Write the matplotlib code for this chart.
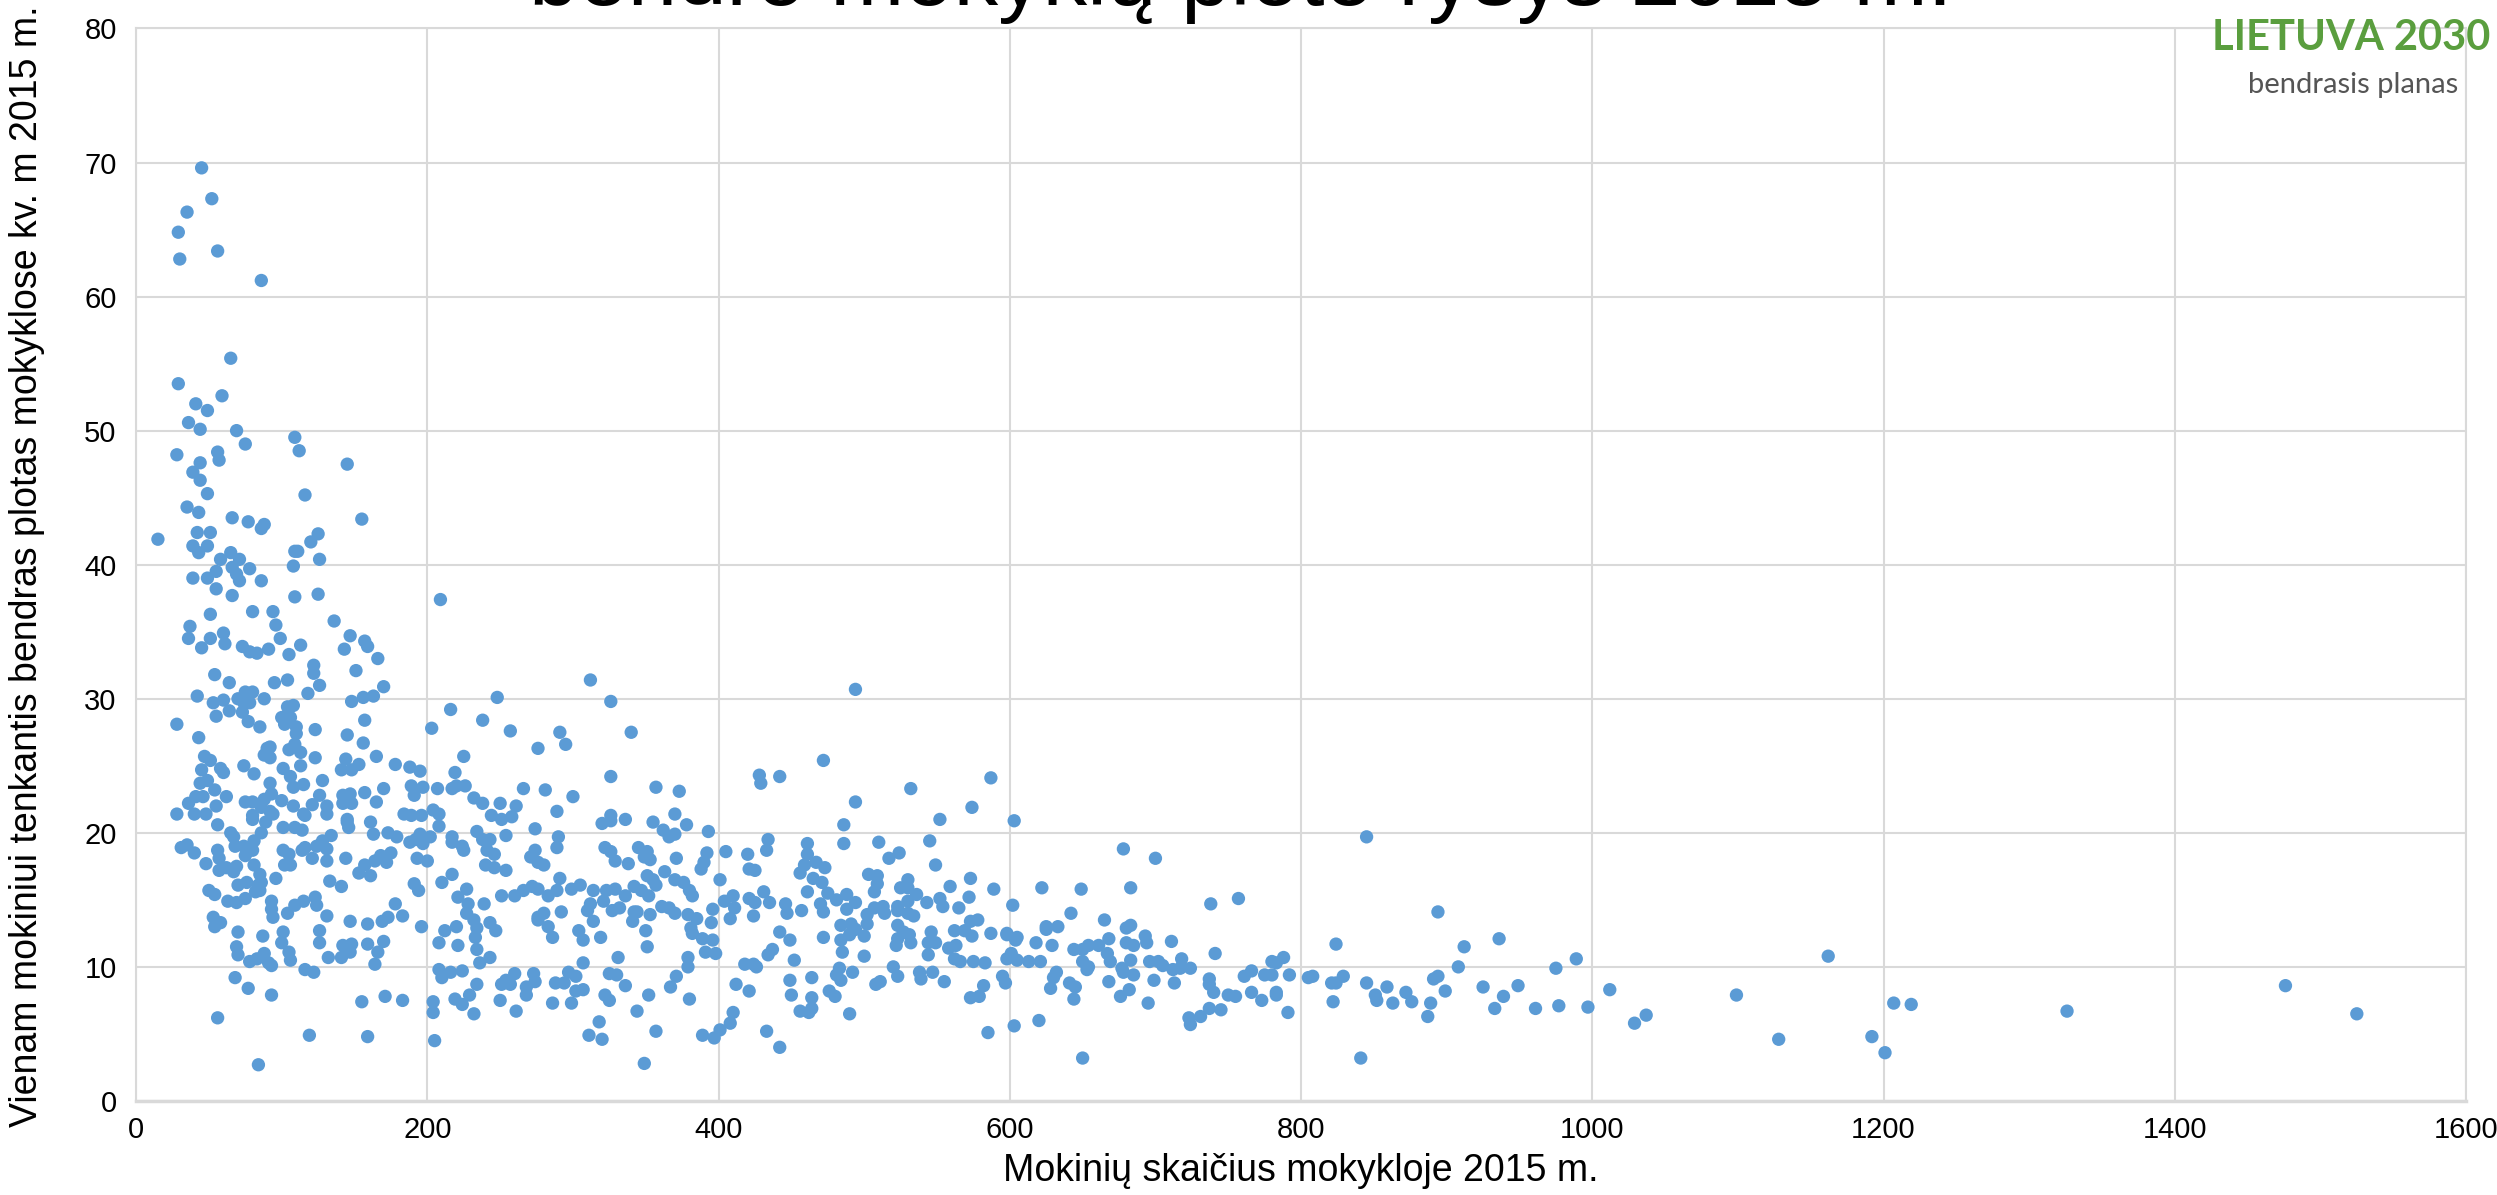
import matplotlib
matplotlib.use("Agg")
import matplotlib.pyplot as plt
import numpy as np

plt.rcParams['font.family'] = ['Liberation Sans', 'DejaVu Sans']

# mokiniu skaicius (x) ir plotas vienam mokiniui (y), skaityta nuo grafiko
# mazos mokyklos (< 200 mokiniu)
small = [
    (45, 69.6), (52, 67.3), (35, 66.3), (29, 64.8), (56, 63.4), (30, 62.8), (86, 61.2), (65, 55.4),
    (29, 53.5), (59, 52.6), (41, 52.0), (49, 51.5), (36, 50.6), (44, 50.1), (69, 50.0), (109, 49.5),
    (75, 49.0), (112, 48.5), (28, 48.2), (56, 48.4), (57, 47.8), (44, 47.6), (145, 47.5), (39, 46.9),
    (44, 46.3), (49, 45.3), (116, 45.2), (35, 44.3), (43, 43.9), (66, 43.5), (77, 43.2), (88, 43.0),
    (155, 43.4), (86, 42.7), (15, 41.9), (42, 42.4), (51, 42.4), (39, 41.4), (43, 40.9), (49, 41.4),
    (65, 40.9), (58, 40.4), (71, 40.4), (66, 39.8), (69, 39.3), (71, 38.8), (78, 39.7), (86, 38.8),
    (55, 39.5), (49, 39.0), (39, 39.0), (55, 38.2), (66, 37.7), (109, 41.0), (111, 41.0), (108, 39.9),
    (120, 41.7), (125, 42.3), (126, 40.4), (109, 37.6), (125, 37.8), (51, 36.3), (80, 36.5), (94, 36.5),
    (96, 35.5), (37, 35.4), (36, 34.5), (51, 34.5), (60, 34.9), (61, 34.1), (45, 33.8), (73, 33.9),
    (78, 33.5), (83, 33.4), (91, 33.7), (99, 34.5), (105, 33.3), (113, 34.0), (136, 35.8), (147, 34.7),
    (143, 33.7), (157, 34.3), (159, 33.9), (166, 33.0), (122, 32.5), (122, 31.9), (151, 32.1), (126, 31.0),
    (170, 30.9), (54, 31.8), (64, 31.2), (95, 31.2), (104, 31.4), (118, 30.4), (42, 30.2), (53, 29.7),
    (60, 29.9), (64, 29.1), (55, 28.7), (70, 30.0), (75, 30.5), (80, 30.5), (74, 29.7), (78, 29.7),
    (73, 29.0), (88, 30.0), (77, 28.3), (85, 27.9), (28, 28.1), (43, 27.1), (104, 29.4), (108, 29.5),
    (100, 28.6), (106, 28.6), (102, 28.1), (110, 27.9), (110, 27.4), (123, 27.7), (148, 29.8), (156, 30.1),
    (163, 30.2), (157, 28.4), (145, 27.3), (156, 26.7), (47, 25.7), (51, 25.4), (45, 24.7), (58, 24.8),
    (60, 24.5), (74, 25.0), (81, 24.4), (90, 26.3), (92, 26.4), (88, 25.8), (92, 25.6), (101, 24.8),
    (109, 26.6), (105, 26.2), (113, 26.0), (113, 25.0), (123, 25.6), (106, 24.2), (108, 23.4), (115, 23.6),
    (92, 23.7), (128, 23.9), (144, 25.5), (141, 24.7), (148, 24.7), (153, 25.1), (165, 25.7), (178, 25.1),
    (188, 24.9), (195, 24.6), (189, 23.5), (191, 22.8), (197, 23.4), (170, 23.3), (157, 23.0), (165, 22.3),
    (44, 23.7), (49, 23.9), (54, 23.2), (41, 22.7), (46, 22.7), (36, 22.2), (40, 21.4), (48, 21.4),
    (55, 22.0), (62, 22.7), (28, 21.4), (75, 22.3), (80, 22.3), (88, 22.5), (93, 22.9), (100, 22.4),
    (86, 21.9), (92, 21.6), (108, 22.0), (115, 21.4), (121, 22.1), (126, 22.8), (131, 22.0), (131, 21.4),
    (142, 22.8), (147, 22.9), (142, 22.2), (148, 22.2), (184, 21.4), (189, 21.3), (196, 21.3), (80, 21.3),
    (145, 21.0), (56, 20.6), (80, 21.0), (89, 20.8), (94, 21.4), (101, 20.4), (109, 20.4), (114, 20.2),
    (116, 21.3), (145, 20.8), (146, 20.4), (161, 20.8), (163, 19.9), (65, 20.0), (67, 19.7), (68, 19.0),
    (74, 19.0), (81, 19.4), (86, 20.0), (80, 18.7), (75, 18.3), (31, 18.9), (35, 19.1), (40, 18.5),
    (56, 18.7), (57, 18.1), (48, 17.7), (57, 17.2), (62, 17.4), (69, 17.5), (67, 17.1), (81, 17.6),
    (85, 16.9), (86, 16.3), (82, 15.6), (85, 15.7), (84, 16.1), (96, 16.6), (101, 18.7), (105, 18.4),
    (102, 17.6), (106, 17.6), (114, 18.7), (116, 18.9), (121, 18.1), (124, 19.0), (128, 19.4), (131, 18.8),
    (134, 19.8), (131, 17.9), (144, 18.1), (153, 17.0), (157, 17.6), (161, 16.8), (164, 17.9), (168, 18.3),
    (172, 17.8), (175, 18.5), (173, 20.0), (179, 19.7), (188, 19.3), (192, 19.5), (195, 19.9), (197, 19.2),
    (193, 18.1), (200, 17.9), (133, 16.4), (141, 16.0), (50, 15.7), (54, 15.4), (63, 14.9), (69, 14.8),
    (75, 15.1), (70, 16.1), (76, 16.3), (93, 14.9), (93, 14.3), (94, 13.7), (104, 14.0), (109, 14.6),
    (115, 14.9), (123, 15.2), (124, 14.6), (131, 13.8), (53, 13.7), (54, 13.0), (58, 13.3), (70, 12.6),
    (87, 12.3), (101, 12.6), (100, 11.8), (105, 11.1), (106, 10.5), (126, 12.7), (126, 11.8), (147, 13.4),
    (159, 13.2), (159, 11.7), (169, 13.4), (173, 13.7), (178, 14.7), (183, 13.8), (191, 16.2), (194, 15.7),
    (196, 13.0), (142, 11.6), (148, 11.7), (147, 11.1), (170, 11.9), (166, 11.1), (164, 10.2), (132, 10.7),
    (141, 10.7), (69, 11.5), (70, 10.9), (78, 10.4), (83, 10.6), (88, 11.0), (91, 10.3), (93, 10.1),
    (116, 9.8), (122, 9.6), (68, 9.2), (77, 8.4), (93, 7.9), (155, 7.4), (171, 7.8), (183, 7.5),
    (56, 6.2), (119, 4.9), (159, 4.8), (84, 2.7),
]

# vidutines mokyklos (200-430 mokiniu)
medium = [
    (209, 37.4), (312, 31.4), (326, 29.8), (248, 30.1), (216, 29.2), (238, 28.4), (203, 27.8), (257, 27.6),
    (291, 27.5), (295, 26.6), (340, 27.5), (276, 26.3), (225, 25.7), (219, 24.5), (207, 23.3), (217, 23.3),
    (220, 23.5), (226, 23.5), (326, 24.2), (428, 24.3), (429, 23.7), (266, 23.3), (281, 23.2), (300, 22.7),
    (357, 23.4), (373, 23.1), (232, 22.6), (238, 22.2), (250, 22.2), (261, 22.0), (204, 21.7), (208, 21.4),
    (208, 20.5), (244, 21.3), (251, 21.0), (258, 21.2), (289, 21.6), (320, 20.7), (326, 21.3), (326, 20.9),
    (336, 21.0), (355, 20.8), (370, 21.4), (378, 20.6), (362, 20.2), (370, 19.9), (366, 19.7), (393, 20.1),
    (234, 20.1), (274, 20.3), (202, 19.7), (217, 19.7), (217, 19.3), (224, 19.0), (238, 19.5), (243, 19.5),
    (254, 19.8), (290, 19.7), (434, 19.5),
    (217, 16.9), (210, 16.3), (225, 18.7), (241, 18.7), (246, 18.4), (240, 17.6), (246, 17.4), (254, 17.2),
    (271, 18.2), (274, 18.7), (276, 17.8), (280, 17.6), (289, 18.9), (227, 15.8), (221, 15.2), (228, 14.7),
    (239, 14.7), (227, 14.0), (232, 13.5), (234, 12.9), (233, 12.2), (243, 13.3), (247, 12.7), (212, 12.7),
    (220, 13.0), (208, 11.8), (221, 11.6), (234, 11.3), (236, 10.3), (243, 10.7), (251, 15.3), (260, 15.3),
    (266, 15.7), (272, 16.0), (276, 15.8), (283, 15.3), (289, 15.7), (291, 16.6), (299, 15.8), (305, 16.1),
    (314, 15.7), (321, 14.9), (323, 15.7), (329, 15.8), (276, 13.7), (280, 14.0), (276, 13.5), (292, 14.1),
    (283, 13.0), (286, 12.2), (304, 12.7), (307, 12.0), (314, 13.4), (319, 12.2), (312, 14.7), (310, 14.2),
    (327, 14.2), (332, 14.4), (322, 18.9), (326, 18.6), (329, 17.9), (338, 17.7), (345, 18.9), (351, 18.6),
    (353, 18.0), (349, 18.2), (336, 15.3), (342, 16.0), (347, 15.7), (352, 15.3), (351, 16.8), (355, 16.5),
    (357, 16.1), (363, 17.1), (342, 14.1), (344, 14.1), (341, 13.4), (353, 13.9), (350, 12.7), (351, 11.5),
    (361, 14.5), (366, 14.4), (370, 14.0), (370, 16.5), (376, 16.3), (380, 15.7), (382, 15.3), (371, 18.1),
    (388, 17.3), (390, 17.8), (392, 18.5), (379, 13.9), (385, 13.6), (381, 12.9), (382, 12.5), (389, 12.1),
    (396, 12.0), (391, 11.1), (398, 11.0), (395, 13.3), (396, 14.3), (401, 16.5), (405, 18.6), (420, 18.4),
    (421, 17.3), (425, 17.2), (404, 14.9), (410, 15.3), (411, 14.4), (408, 13.6), (421, 15.1), (425, 14.8),
    (424, 13.8), (431, 15.6), (435, 14.8), (434, 10.9), (418, 10.2), (424, 10.2), (426, 10.0), (412, 8.7),
    (421, 8.2), (410, 6.6), (408, 5.8), (433, 5.2), (379, 10.7), (379, 10.0), (371, 9.3), (367, 8.5),
    (380, 7.6), (389, 4.9), (397, 4.7), (401, 5.3), (357, 5.2), (349, 2.8), (344, 6.7), (352, 7.9),
    (336, 8.6), (331, 10.7), (322, 7.9), (325, 7.5), (325, 9.5), (330, 9.4), (318, 5.9), (311, 4.9),
    (320, 4.6), (307, 10.3), (297, 9.6), (302, 9.3), (302, 8.2), (307, 8.3), (299, 7.3), (288, 8.8),
    (294, 8.8), (286, 7.3), (273, 9.5), (274, 8.9), (268, 8.5), (268, 7.9), (260, 9.5), (254, 9.0),
    (251, 8.7), (257, 8.7), (250, 7.5), (261, 6.7), (234, 8.7), (208, 9.8), (210, 9.2), (216, 9.6),
    (224, 9.7), (219, 7.6), (224, 7.2), (229, 7.9), (232, 6.5), (204, 7.4), (204, 6.6), (205, 4.5),
]

# didesnes mokyklos (430-700 mokiniu)
large = [
    (494, 30.7), (472, 25.4), (442, 24.2), (532, 23.3), (494, 22.3), (587, 24.1), (574, 21.9), (552, 21.0),
    (603, 20.9), (486, 20.6), (486, 19.2), (433, 18.7), (461, 19.2), (461, 18.4), (459, 17.6), (467, 17.8),
    (473, 17.4), (456, 17.0), (465, 16.6), (471, 16.3), (510, 19.3), (517, 18.1), (524, 18.5), (545, 19.4),
    (549, 17.6), (503, 16.9), (509, 16.8), (509, 16.2), (507, 15.6), (530, 16.5), (525, 15.9), (530, 15.9),
    (536, 15.4), (530, 14.9), (559, 16.0), (573, 16.6), (572, 15.2), (589, 15.8), (446, 14.7), (447, 14.0),
    (461, 15.6), (457, 14.2), (475, 15.5), (481, 15.0), (488, 15.4), (488, 14.3), (494, 14.8), (470, 14.7),
    (472, 14.1), (502, 13.9), (507, 14.4), (513, 14.5), (514, 14.0), (523, 14.2), (523, 14.5), (530, 14.0),
    (534, 13.8), (543, 14.8), (552, 15.1), (554, 14.5), (565, 14.4), (484, 13.1), (491, 13.2), (494, 12.8),
    (490, 12.4), (502, 13.2), (500, 12.3), (523, 13.1), (527, 12.6), (531, 12.4), (523, 12.1), (522, 11.6),
    (532, 11.8), (546, 12.6), (544, 11.8), (549, 11.8), (544, 10.9), (562, 12.7), (558, 11.4), (563, 11.6),
    (569, 12.7), (573, 13.4), (578, 13.5), (574, 12.3), (587, 12.5), (442, 12.6), (449, 12.0), (472, 12.2),
    (437, 11.3), (452, 10.5), (485, 11.1), (484, 12.0), (500, 10.8), (562, 10.6), (566, 10.4), (575, 10.4),
    (583, 10.3), (483, 9.9), (481, 9.4), (484, 9.0), (492, 9.6), (449, 9.0), (464, 9.2), (450, 7.9),
    (464, 7.7), (456, 6.7), (462, 6.6), (464, 6.9), (476, 8.2), (480, 7.8), (490, 6.5), (508, 8.7),
    (511, 8.9), (520, 10.0), (523, 9.3), (538, 9.6), (539, 9.1), (547, 9.6), (555, 8.9), (442, 4.0),
    (573, 7.7), (579, 7.8), (582, 8.6), (585, 5.1), (597, 8.8), (595, 9.3), (603, 5.6), (602, 14.6),
    (598, 12.4), (604, 12.0), (605, 12.2), (601, 11.0), (598, 10.6), (605, 10.5), (598, 12.5), (613, 10.4),
    (621, 10.4), (618, 11.8), (622, 15.9), (625, 12.8), (625, 13.0), (633, 13.0), (629, 11.6), (642, 14.0),
    (632, 9.6), (630, 9.2), (628, 8.4), (641, 8.8), (645, 8.5), (644, 7.6), (620, 6.0), (650, 3.2),
    (649, 15.8), (665, 13.5), (668, 12.1), (661, 11.6), (667, 11.0), (669, 10.4), (668, 8.9), (644, 11.3),
    (650, 11.3), (654, 11.6), (650, 10.4), (654, 10.0), (653, 9.8), (678, 18.8), (683, 15.9), (700, 18.1),
    (680, 12.9), (683, 13.1), (680, 11.8), (685, 11.6), (693, 12.3), (694, 11.8), (677, 9.9), (683, 10.5),
    (678, 9.6), (685, 9.4), (696, 10.4), (699, 9.0), (676, 7.8), (682, 8.3), (695, 7.3),
]

# didziausios mokyklos (> 700 mokiniu)
xlarge = [
    (738, 14.7), (757, 15.1), (845, 19.7), (894, 14.1), (936, 12.1), (912, 11.5), (908, 10.0), (824, 11.7),
    (702, 10.4), (705, 10.1), (711, 11.9), (718, 10.6), (712, 9.8), (717, 9.9), (724, 9.9), (741, 11.0),
    (713, 8.8), (737, 9.1), (737, 8.7), (740, 8.1), (750, 7.9), (755, 7.8), (723, 6.2), (724, 5.7),
    (731, 6.3), (737, 6.9), (745, 6.8), (761, 9.3), (766, 9.7), (775, 9.4), (780, 10.4), (780, 9.4),
    (783, 10.3), (788, 10.7), (792, 9.4), (766, 8.1), (773, 7.5), (783, 8.1), (783, 7.9), (791, 6.6),
    (805, 9.2), (808, 9.3), (821, 8.8), (824, 8.8), (829, 9.3), (822, 7.4), (845, 8.8), (851, 7.9),
    (852, 7.5), (859, 8.5), (863, 7.3), (872, 8.1), (876, 7.4), (841, 3.2), (889, 7.3), (887, 6.3),
    (891, 9.1), (894, 9.3), (899, 8.2), (925, 8.5), (933, 6.9), (939, 7.8), (949, 8.6), (961, 6.9),
    (975, 9.9), (977, 7.1), (989, 10.6), (997, 7.0), (1012, 8.3), (1029, 5.8), (1037, 6.4),
    (1099, 7.9), (1128, 4.6), (1162, 10.8), (1192, 4.8), (1201, 3.6), (1207, 7.3), (1219, 7.2),
    (1326, 6.7), (1476, 8.6), (1525, 6.5),
]

x_ticks = [0, 200, 400, 600, 800, 1000, 1200, 1400, 1600]
y_ticks = [0, 10, 20, 30, 40, 50, 60, 70, 80]

title_text = "bendro mokyklų ploto ryšys 2015 m."
x_label = "Mokinių skaičius mokykloje 2015 m."
y_label = "Vienam mokiniui tenkantis bendras plotas mokyklose kv. m 2015 m."

points = np.array(small + medium + large + xlarge)

fig = plt.figure(figsize=(24.97, 11.95), dpi=100)
ax = fig.add_axes([0.0545, 0.0787, 0.9331, 0.8975])

ax.scatter(points[:, 0], points[:, 1], s=92, color='#5b9bd5', edgecolors='none', zorder=3)

ax.set_xlim(0, 1600)
ax.set_ylim(0, 80)
ax.set_xticks(x_ticks)
ax.set_yticks(y_ticks)
ax.grid(True, color='#d9d9d9', linewidth=1.5, zorder=0)
ax.tick_params(length=0, labelsize=21, colors='black')
ax.tick_params(axis='y', pad=14)
ax.tick_params(axis='x', pad=11)
for side, sp in ax.spines.items():
    sp.set_color('#d9d9d9')
    sp.set_linewidth(1.5)
ax.spines['bottom'].set_linewidth(2.5)

fig.text(0.521, 0.020, x_label, fontsize=27, ha='center', va='center')
fig.text(0.0108, 0.526, y_label, fontsize=27, ha='center', va='center', rotation=90)

# pavadinimas, virsutine dalis nukirsta kaip originale
fig.text(0.497, 0.9958, title_text, fontsize=64, ha='center', va='baseline')

# logotipas
fig.text(0.9972, 0.958, "LIETUVA 2030", fontsize=30, fontweight='bold', color='#5a9e3e',
         ha='right', va='baseline', family=['Lato', 'DejaVu Sans'])
fig.text(0.9845, 0.922, "bendrasis planas", fontsize=21, fontweight='normal', color='#555555',
         ha='right', va='baseline', family=['Lato', 'DejaVu Sans'])

fig.savefig("out.png", dpi=100)
